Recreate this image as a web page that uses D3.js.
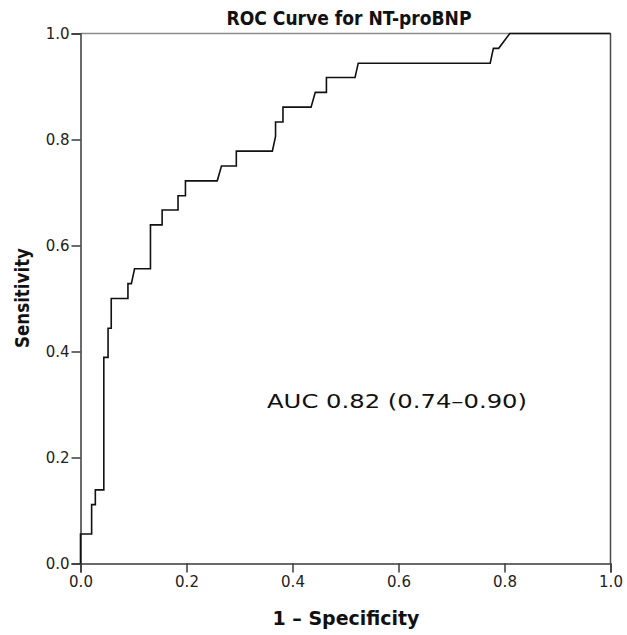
<!DOCTYPE html>
<html>
<head>
<meta charset="utf-8">
<script src="https://cdn.jsdelivr.net/npm/d3@7"></script>
<style>
    body { margin: 0; background: #fff; }
    svg { display: block; }
</style>
</head>
<body>
<svg id="chart" width="627" height="635"></svg>
<script>
// ROC curve vertices (1 - specificity, sensitivity)
var fpr = [0, 0, 0.021, 0.021, 0.028, 0.028, 0.044, 0.044, 0.052, 0.052, 0.058, 0.058,
    0.0895, 0.0895, 0.096, 0.102, 0.132, 0.132, 0.154, 0.154, 0.184, 0.184, 0.198, 0.198,
    0.258, 0.266, 0.294, 0.294, 0.362, 0.368, 0.368, 0.382, 0.382, 0.435, 0.443, 0.464,
    0.464, 0.518, 0.524, 0.773, 0.779, 0.789, 0.81, 1];
var tpr = [0, 0.0556, 0.0556, 0.111, 0.111, 0.139, 0.139, 0.389, 0.389, 0.444, 0.444, 0.5,
    0.5, 0.528, 0.528, 0.556, 0.556, 0.639, 0.639, 0.667, 0.667, 0.694, 0.694, 0.722,
    0.722, 0.75, 0.75, 0.778, 0.778, 0.806, 0.833, 0.833, 0.861, 0.861, 0.889, 0.889,
    0.917, 0.917, 0.944, 0.944, 0.972, 0.972, 1, 1];
var tickValues = [0, 0.2, 0.4, 0.6, 0.8, 1.0];

var chartTitle = 'ROC Curve for NT-proBNP',
    xTitle = '1 \u2013 Specificity',
    yTitle = 'Sensitivity',
    aucLabel = 'AUC 0.82 (0.74\u20130.90)';

var margin = {top: 33.5, left: 80.5},
    width = 530,
    height = 530,
    axisColor = '#3a3a3a';

var svg = d3.select('#chart');
var g = svg.append('g')
    .attr('transform', 'translate(' + margin.left + ',' + margin.top + ')');

var x = d3.scaleLinear().domain([0, 1]).range([0, width]);
var y = d3.scaleLinear().domain([0, 1]).range([height, 0]);

// frame: top in light gray, right in dark gray
g.append('line')
    .attr('x1', x(0)).attr('x2', x(1))
    .attr('y1', y(1)).attr('y2', y(1))
    .attr('stroke', '#8c8c8c')
    .attr('stroke-width', 1.5);
g.append('line')
    .attr('x1', x(1)).attr('x2', x(1))
    .attr('y1', y(1)).attr('y2', y(0))
    .attr('stroke', '#4a4a4a')
    .attr('stroke-width', 1.5);

var xAxis = g.append('g')
    .attr('transform', 'translate(0,' + height + ')')
    .call(d3.axisBottom(x).tickValues(tickValues).tickFormat(d3.format('.1f')).tickSize(9).tickPadding(4));
var yAxis = g.append('g')
    .call(d3.axisLeft(y).tickValues(tickValues).tickFormat(d3.format('.1f')).tickSize(9).tickPadding(2));

[xAxis, yAxis].forEach(function(ax) {
    ax.select('.domain').attr('stroke', axisColor).attr('stroke-width', 1.5);
    ax.selectAll('.tick line').attr('stroke', axisColor).attr('stroke-width', 1.5);
    ax.selectAll('.tick text')
        .attr('fill', '#222')
        .style('font-family', '"DejaVu Sans", sans-serif')
        .style('font-size', '15px');
});
yAxis.selectAll('.tick text').attr('dy', '0.36em');

// the curve
var pts = d3.zip(fpr, tpr);
var line = d3.line()
    .x(function(d) { return x(d[0]); })
    .y(function(d) { return y(d[1]); });

g.append('path')
    .datum(pts)
    .attr('d', line)
    .attr('fill', 'none')
    .attr('stroke', '#111')
    .attr('stroke-width', 1.6)
    .attr('stroke-linejoin', 'miter');

// texts
svg.append('text')
    .attr('x', 349)
    .attr('y', 25)
    .attr('text-anchor', 'middle')
    .attr('textLength', 245)
    .attr('lengthAdjust', 'spacingAndGlyphs')
    .style('font-family', '"DejaVu Sans", sans-serif')
    .style('font-weight', 'bold')
    .style('font-size', '20px')
    .attr('fill', '#111')
    .text(chartTitle);

svg.append('text')
    .attr('x', 346)
    .attr('y', 625)
    .attr('text-anchor', 'middle')
    .attr('textLength', 147)
    .attr('lengthAdjust', 'spacingAndGlyphs')
    .style('font-family', '"DejaVu Sans", sans-serif')
    .style('font-weight', 'bold')
    .style('font-size', '19px')
    .attr('fill', '#111')
    .text(xTitle);

svg.append('text')
    .attr('transform', 'translate(29,298) rotate(-90)')
    .attr('text-anchor', 'middle')
    .attr('textLength', 100)
    .attr('lengthAdjust', 'spacingAndGlyphs')
    .style('font-family', '"DejaVu Sans", sans-serif')
    .style('font-weight', 'bold')
    .style('font-size', '19px')
    .attr('fill', '#111')
    .text(yTitle);

svg.append('text')
    .attr('x', 267)
    .attr('y', 408)
    .attr('textLength', 260)
    .attr('lengthAdjust', 'spacingAndGlyphs')
    .style('font-family', '"DejaVu Sans", sans-serif')
    .style('font-size', '20px')
    .attr('fill', '#111')
    .text(aucLabel);
</script>
</body>
</html>
